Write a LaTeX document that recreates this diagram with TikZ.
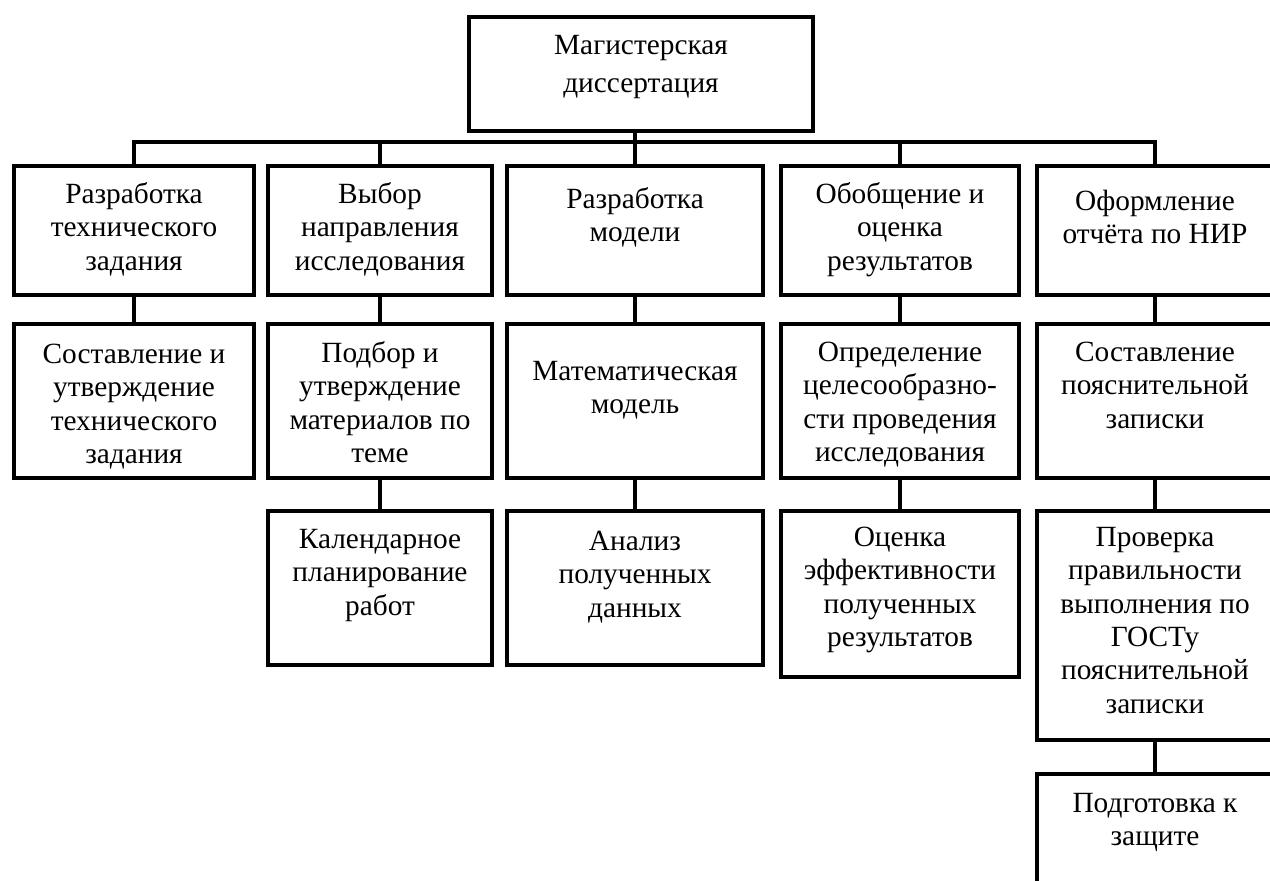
\documentclass[tikz,border=0pt]{standalone}
\usepackage{fontspec}
\setmainfont{Liberation Serif}
\usetikzlibrary{fit}
\newcommand\firstline{\rule{0pt}{15pt}}
\tikzset{
  x=0.02cm, y=-0.02cm,
  boxst/.style={draw=black, line width=2.4pt, inner sep=0pt, rectangle},
  txt/.style={align=center, inner sep=0pt, anchor=north,
    font=\fontsize{16.7pt}{19pt}\selectfont},
  toptxt/.style={txt, font=\fontsize{16.7pt}{21.9pt}\selectfont},
  conn/.style={draw=black, line width=2.2pt}
}
% name, x1, y1, x2, y2, first baseline, text, text style
\newcommand\mybox[8][txt]{%
  \path (#3,#4) coordinate (#2a) (#5,#6) coordinate (#2b);
  \node[boxst, fit=(#2a)(#2b)] (#2) {};
  \node[#1] (#2t) at ({(#3+#5)/2}, {#7-26.46}) {\firstline #8};
}
\begin{document}
\begin{tikzpicture}
\useasboundingbox (0,0) rectangle (1270,881);
% top
\mybox[toptxt]{top}{469}{17}{813}{131}{54}{Магистерская\\диссертация}
% row 1
\mybox{b11}{14}{166}{254}{295}{203}{Разработка\\технического\\задания}
\mybox{b21}{268}{166}{492}{295}{203}{Выбор\\направления\\исследования}
\mybox{b31}{507}{166}{763}{295}{208}{Разработка\\модели}
\mybox{b41}{781}{166}{1019}{295}{203}{Обобщение и\\оценка\\результатов}
\mybox{b51}{1037}{166}{1273}{295}{210}{Оформление\\отчёта по НИР}
% row 2
\mybox{b12}{14}{324}{254}{478}{363}{Составление и\\утверждение\\технического\\задания}
\mybox{b22}{268}{324}{492}{478}{362}{Подбор и\\утверждение\\материалов по\\теме}
\mybox{b32}{507}{324}{763}{478}{380}{Математическая\\модель}
\mybox{b42}{781}{324}{1019}{478}{361}{Определение\\целесообразно-\\сти проведения\\исследования}
\mybox{b52}{1037}{324}{1273}{478}{361}{Составление\\пояснительной\\записки}
% row 3
\mybox{b23}{268}{511}{492}{665}{548}{Календарное\\планирование\\работ}
\mybox{b33}{507}{511}{763}{665}{550}{Анализ\\полученных\\данных}
\mybox{b43}{781}{511}{1019}{677}{546}{Оценка\\эффективности\\полученных\\результатов}
\mybox{b53}{1037}{511}{1273}{740}{546}{Проверка\\правильности\\выполнения по\\ГОСТу\\пояснительной\\записки}
% row 4
\mybox{b54}{1037}{774}{1273}{910}{812}{Подготовка к\\защите}
% connectors
\draw[conn] (b11.north) -- ++(0,-22) -| (b51.north);
\draw[conn] (b21.north) -- ++(0,-22);
\draw[conn] (b41.north) -- ++(0,-22);
\draw[conn] (top.south -| b31.north) -- (b31.north);
\draw[conn] (b11.south) -- (b12.north);
\draw[conn] (b21.south) -- (b22.north);
\draw[conn] (b31.south) -- (b32.north);
\draw[conn] (b41.south) -- (b42.north);
\draw[conn] (b51.south) -- (b52.north);
\draw[conn] (b22.south) -- (b23.north);
\draw[conn] (b32.south) -- (b33.north);
\draw[conn] (b42.south) -- (b43.north);
\draw[conn] (b52.south) -- (b53.north);
\draw[conn] (b53.south) -- (b54.north);
\end{tikzpicture}
\end{document}
